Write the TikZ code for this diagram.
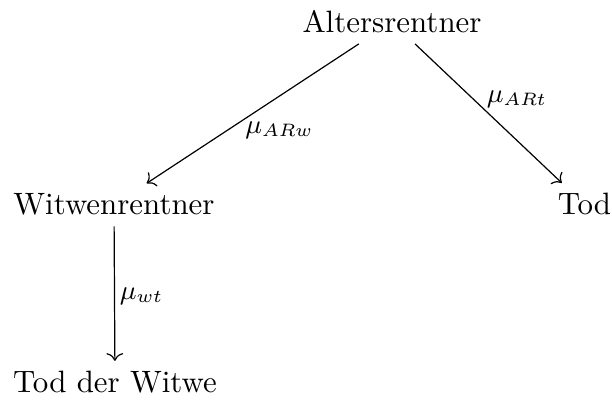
\documentclass[tikz,border=0pt]{standalone}
\usetikzlibrary{arrows.meta}
\begin{document}
\begin{tikzpicture}[x=0.3333pt, y=-0.3333pt,
  state/.style={anchor=base, font=\fontsize{10.3pt}{12pt}\selectfont},
  rate/.style={inner sep=0pt, font=\small},
  trans/.style={-{To[length=2.6pt, width=5.6pt]}, line width=0.4pt}]
\useasboundingbox (0,0) rectangle (612,401);
% states
\node[state] (ar) at (392,33) {Altersrentner};
\node[state] (wr) at (114,215) {Witwenrentner};
\node[state] (tod) at (584.5,215) {Tod};
\node[state] (tw) at (115,393) {Tod der Witwe};
% transitions
\draw[trans] (ar) -- (wr);
\draw[trans] (ar) -- (tod);
\draw[trans] (wr) -- (tw);
% transition intensities
\node[rate] (lw) at (279.5,130) {$\mu_{ARw}$};
\node[rate] (lt) at (517,99) {$\mu_{ARt}$};
\node[rate] (lwt) at (141.5,296) {$\mu_{wt}$};
\end{tikzpicture}
\end{document}
